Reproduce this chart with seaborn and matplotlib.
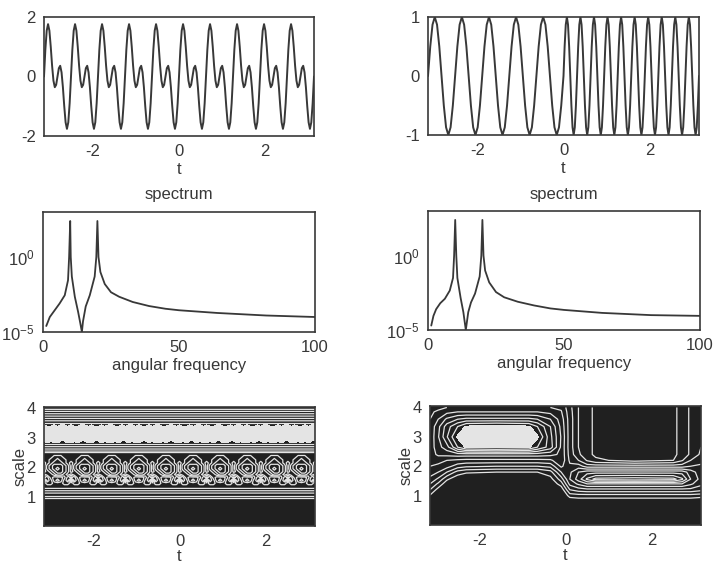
import numpy as np
import matplotlib
matplotlib.use("Agg")
import matplotlib.pyplot as plt
import seaborn as sns

# ---------------------------------------------------------
# Signals (one line per cycle of the curve)
# ---------------------------------------------------------
signal_left = [
    0, .90, 1.54, 1.76, 1.54, 1, .36, -.14, -.36, -.28, 0, .28, .36, .14, -.36, -1, -1.54, -1.76, -1.54, -.90,
    0, .90, 1.54, 1.76, 1.54, 1, .36, -.14, -.36, -.28, 0, .28, .36, .14, -.36, -1, -1.54, -1.76, -1.54, -.90,
    0, .90, 1.54, 1.76, 1.54, 1, .36, -.14, -.36, -.28, 0, .28, .36, .14, -.36, -1, -1.54, -1.76, -1.54, -.90,
    0, .90, 1.54, 1.76, 1.54, 1, .36, -.14, -.36, -.28, 0, .28, .36, .14, -.36, -1, -1.54, -1.76, -1.54, -.90,
    0, .90, 1.54, 1.76, 1.54, 1, .36, -.14, -.36, -.28, 0, .28, .36, .14, -.36, -1, -1.54, -1.76, -1.54, -.90,
    0, .90, 1.54, 1.76, 1.54, 1, .36, -.14, -.36, -.28, 0, .28, .36, .14, -.36, -1, -1.54, -1.76, -1.54, -.90,
    0, .90, 1.54, 1.76, 1.54, 1, .36, -.14, -.36, -.28, 0, .28, .36, .14, -.36, -1, -1.54, -1.76, -1.54, -.90,
    0, .90, 1.54, 1.76, 1.54, 1, .36, -.14, -.36, -.28, 0, .28, .36, .14, -.36, -1, -1.54, -1.76, -1.54, -.90,
    0, .90, 1.54, 1.76, 1.54, 1, .36, -.14, -.36, -.28, 0, .28, .36, .14, -.36, -1, -1.54, -1.76, -1.54, -.90,
    0, .90, 1.54, 1.76, 1.54, 1, .36, -.14, -.36, -.28, 0, .28, .36, .14, -.36, -1, -1.54, -1.76, -1.54, -.90,
    0,
]

signal_right_slow = [
    0, .5, .87, 1, .87, .5, 0, -.5, -.87, -1, -.87, -.5,
    0, .5, .87, 1, .87, .5, 0, -.5, -.87, -1, -.87, -.5,
    0, .5, .87, 1, .87, .5, 0, -.5, -.87, -1, -.87, -.5,
    0, .5, .87, 1, .87, .5, 0, -.5, -.87, -1, -.87, -.5,
    0, .5, .87, 1, .87, .5, 0, -.5, -.87, -1, -.87, -.5,
]
signal_right_fast = [
    0, .5, .87, 1, .87, .5, 0, -.5, -.87, -1, -.87, -.5,
    0, .5, .87, 1, .87, .5, 0, -.5, -.87, -1, -.87, -.5,
    0, .5, .87, 1, .87, .5, 0, -.5, -.87, -1, -.87, -.5,
    0, .5, .87, 1, .87, .5, 0, -.5, -.87, -1, -.87, -.5,
    0, .5, .87, 1, .87, .5, 0, -.5, -.87, -1, -.87, -.5,
    0, .5, .87, 1, .87, .5, 0, -.5, -.87, -1, -.87, -.5,
    0, .5, .87, 1, .87, .5, 0, -.5, -.87, -1, -.87, -.5,
    0, .5, .87, 1, .87, .5, 0, -.5, -.87, -1, -.87, -.5,
    0, .5, .87, 1, .87, .5, 0, -.5, -.87, -1, -.87, -.5,
    0, .5, .87, 1, .87, .5, 0, -.5, -.87, -1, -.87, -.5,
    0,
]

# ---------------------------------------------------------
# Spectra, log10 of the amplitude
# ---------------------------------------------------------
freq_left = [1.2, 2.5, 4.3, 6.1, 8, 9.2, 9.6, 10, 10.2, 10.6, 11.7, 12.9, 13.7, 14.3, 14.7, 15.7,
             17.2, 19, 19.6, 20, 20.4, 21.1, 22.7, 25, 28, 33, 39, 45, 50, 64, 82, 100]
logamp_left = [-4.6, -4, -3.55, -3.1, -2.55, -1.55, 0, 2.4, 0, -1.3, -2.65, -3.65, -4.4, -5, -4.3, -3.3,
               -2.55, -1.3, 0, 2.4, 0, -1, -1.8, -2.35, -2.65, -3, -3.27, -3.45, -3.55, -3.73, -3.9, -4]
freq_right = [1.2, 2, 3, 4.5, 6.2, 8, 9.2, 9.6, 10, 10.4, 10.8, 12, 13, 13.9, 14.8, 15.8,
              17.3, 19, 19.6, 20, 20.4, 21, 22.5, 25, 28, 33, 39, 45, 50, 64, 82, 100]
logamp_right = [-4.7, -4.05, -3.6, -3.2, -2.9, -2.35, -1.5, 0, 2.4, 0, -1.5, -2.85, -3.8, -5, -3.8, -3.15,
                -2.55, -1.4, 0, 2.4, 0, -1, -1.8, -2.45, -2.8, -3.1, -3.35, -3.55, -3.65, -3.85, -4, -4.05]

# ---------------------------------------------------------
# Left scalogram: flat bands below and above, ring pattern between
# ---------------------------------------------------------
band_low_scale = [0, 0.9, 0.95, 1.03, 1.12, 1.2, 1.28, 1.36]
band_low_level = [0, 0.4, 1, 2, 3, 4, 5, 5.5]
ring_scale = [1.45, 1.55, 1.65, 1.75, 1.85, 1.95, 2.05, 2.15, 2.25, 2.35, 2.45]
ring_rows = [
    "56655566 56655566 56655566 56655566 56655566 56655566 56655566 56655566 56655566 56655566 5",
    "27643467 27643467 27643467 27643467 27643467 27643467 27643467 27643467 27643467 27643467 2",
    "87544457 87544457 87544457 87544457 87544457 87544457 87544457 87544457 87544457 87544457 8",
    "65567765 65567765 65567765 65567765 65567765 65567765 65567765 65567765 65567765 65567765 6",
    "45678876 45678876 45678876 45678876 45678876 45678876 45678876 45678876 45678876 45678876 4",
    "46789876 46789876 46789876 46789876 46789876 46789876 46789876 46789876 46789876 46789876 4",
    "46788876 46788876 46788876 46788876 46788876 46788876 46788876 46788876 46788876 46788876 4",
    "45677765 45677765 45677765 45677765 45677765 45677765 45677765 45677765 45677765 45677765 4",
    "55667665 55667665 55667665 55667665 55667665 55667665 55667665 55667665 55667665 55667665 5",
    "55566655 55566655 55566655 55566655 55566655 55566655 55566655 55566655 55566655 55566655 5",
    "55555555 55555555 55555555 55555555 55555555 55555555 55555555 55555555 55555555 55555555 5",
]
band_high_scale = [2.5, 2.55, 2.62, 2.7, 2.78, 2.85, 3.0, 3.3, 3.42, 3.5, 3.58, 3.66, 3.74, 3.82, 3.9, 3.97, 4.0]
band_high_level = [6, 7, 8, 9, 10, 11, 12, 12, 11, 10, 9, 8, 7, 6, 5, 4, 3.5]
# the two edges of the white band are broken up into specks in the scan
speck_edge_low = "0101100110100110010110100101100101101001101001011010011001011010010110100110101001"[:81]
speck_edge_high = "1001011010011010010110010110100101100110100101101001100101101001011001011010010110"[:81]

# ---------------------------------------------------------
# Right scalogram: levels read at these t / scale positions
# ---------------------------------------------------------
right_t = [-3.14, -2.95, -2.75, -2.5, -2.3, -1.6, -.85, -.65, -.35, -.1, .1, .3, .5, .7, 1.6, 2.5, 2.7, 2.9, 3.14]
right_scale = [0, .9, 1, 1.2, 1.4, 1.56, 1.8, 2, 2.2, 2.4, 2.65, 3, 3.35, 3.6, 3.85, 4]
right_levels = [
    [-1, -1, -1, -1, -1, -1, -1, -1, -1, -1, -1, -1, -1, -1, -1, -1, -1, -1, -1],
    [-1, -1, -1, -1, -1, -1, -1, -1, -1, -1, .7, .9, .9, .9, .9, .9, .9, .9, .7],
    [.9, -.5, -1, -1, -1, -1, -1, -1, -1, -.5, 1.5, 1.6, 1.6, 1.6, 1.6, 1.6, 1.6, 1.6, 1.5],
    [2, .6, -.5, -1, -1, -1, -1, -1, -.5, .3, 3, 3.5, 3.7, 3.7, 3.7, 3.7, 3.7, 3.7, 3.3],
    [3, 1.8, .3, -.5, -1, -1, -1, -.5, .1, 1.5, 4.3, 5.2, 6, 6, 6, 6, 6, 5.2, 4.3],
    [3.7, 2.8, 1.2, .2, -.3, -.5, -.4, -.3, .6, 2.5, 5, 6.5, 8.2, 9.4, 9.6, 9.4, 8.2, 6, 4.6],
    [4.5, 4, 3, 1.6, 1.2, 1, 1, 1, 1.6, 4, 4.8, 6, 6.6, 6.6, 6.6, 6.6, 6.6, 5.5, 4.4],
    [5, 4.8, 4.4, 3.5, 3.2, 3, 3, 3, 3.3, 5.2, 4.2, 4.5, 3.5, 3.5, 3.5, 3.5, 3.5, 4, 4.2],
    [5.3, 5.3, 5, 4.8, 4.7, 4.7, 4.7, 4.7, 4.8, 5.8, 3.8, 3, 1.9, 1.2, .6, 1, 1.9, 3, 3.6],
    [5.5, 6.2, 6.3, 6.5, 6.5, 6.5, 6.5, 6.5, 6.3, 5.8, 3.6, 2.2, 1.3, .8, 0, .8, 1.3, 2.2, 3.2],
    [5.4, 6.6, 7.6, 10, 11.2, 11.5, 11.2, 10, 8.5, 5.8, 3.5, 2, 1.3, .8, 0, .8, 1.3, 2.2, 3],
    [5.2, 6.9, 8.9, 11.2, 12, 12, 12, 11.2, 8.3, 5.9, 3.5, 2, 1.3, .8, 0, .8, 1.3, 2.2, 3],
    [5.2, 6.7, 8.5, 10, 11.2, 11.5, 11.2, 10, 8, 5.7, 3.5, 2, 1.3, .8, 0, .8, 1.3, 2.2, 3],
    [5, 6, 7.2, 8, 8.3, 8.3, 8.3, 8, 7, 5.5, 3.5, 2, 1.3, .8, 0, .8, 1.3, 2.2, 3],
    [4.8, 5.2, 5.7, 6, 6, 6, 6, 6, 5.7, 5.1, 3.4, 2, 1.3, .8, 0, .8, 1.3, 2.2, 3],
    [4.5, 4.7, 5, 5.2, 5.2, 5.2, 5.2, 5.2, 5, 4.8, 3.3, 2, 1.3, .8, 0, .8, 1.3, 2.2, 3],
]

t_ticks = [-2, 0, 2]
t_range = (-3.14, 3.14)
INK = "#383838"
DARK = "#202020"
PALE = "#e4e4e4"
W, H = 717, 563

sns.set_theme(style="white")
plt.rcParams["font.family"] = ["Liberation Sans", "DejaVu Sans"]
plt.rcParams["mathtext.default"] = "regular"
plt.rcParams["axes.unicode_minus"] = False
plt.rcParams["text.color"] = INK
plt.rcParams["axes.labelcolor"] = INK
plt.rcParams["xtick.color"] = INK
plt.rcParams["ytick.color"] = INK

fig = plt.figure(figsize=(W / 100, H / 100), dpi=100)


def panel(left, top, right, bottom):
    # axes box given in image pixels
    ax = fig.add_axes([left / W, 1 - bottom / H, (right - left) / W, (bottom - top) / H])
    for spine in ax.spines.values():
        spine.set_color(INK)
        spine.set_linewidth(1.2)
    ax.tick_params(direction="in", length=2, width=0.8, labelsize=12, pad=6)
    return ax


def draw_signal(ax, t, values, yticks):
    sns.lineplot(x=t, y=values, ax=ax, color=INK, linewidth=1.4, estimator=None, sort=False)
    ax.set_xlim(*t_range)
    ax.set_ylim(yticks[0], yticks[-1])
    ax.set_xticks(t_ticks)
    ax.set_yticks(yticks)
    ax.set_xlabel("t", fontsize=12, labelpad=2)


def draw_spectrum(ax, freq, logamp):
    sns.lineplot(x=freq, y=np.power(10.0, logamp), ax=ax, color=INK, linewidth=1.3, estimator=None, sort=False)
    ax.set_yscale("log")
    ax.set_xlim(0, 100)
    ax.set_ylim(1e-5, 1e3)
    ax.set_xticks([0, 50, 100])
    ax.set_yticks([1e-5, 1e0])
    ax.minorticks_off()
    ax.set_xlabel("angular frequency", fontsize=12, labelpad=2)
    ax.set_title("spectrum", fontsize=12, pad=9, color=INK)


def draw_scalogram(ax, t, scale, z, levels, top_level):
    ax.set_facecolor(DARK)
    ax.contourf(t, scale, z, levels=[top_level, 99], colors=[PALE])
    ax.contour(t, scale, z, levels=levels, colors=[PALE], linewidths=0.9)
    ax.set_xlim(*t_range)
    ax.set_ylim(0, 4.05)
    ax.set_xticks(t_ticks)
    ax.set_yticks([1, 2, 3, 4])
    ax.set_xlabel("t", fontsize=12, labelpad=0)
    ax.set_ylabel("scale", fontsize=12, labelpad=-1)


# signals
t_left = np.linspace(-3.14, 3.14, len(signal_left))
t_right = np.r_[np.linspace(-3.14, 0, len(signal_right_slow), endpoint=False),
                np.linspace(0, 3.14, len(signal_right_fast))]
draw_signal(panel(44, 17, 314, 136), t_left, signal_left, [-2, 0, 2])
draw_signal(panel(428, 17, 699, 135), t_right, signal_right_slow + signal_right_fast, [-1, 0, 1])

# spectra
draw_spectrum(panel(43, 212, 315, 332), freq_left, logamp_left)
draw_spectrum(panel(428, 211, 700, 330), freq_right, logamp_right)

# scalograms
ring_grid = np.array([[int(c) + 0.5 for c in row if c != " "] for row in ring_rows])
n_cols = ring_grid.shape[1]
left_scale = np.r_[band_low_scale, ring_scale, band_high_scale]
left_z = np.vstack([np.tile(np.array(band_low_level)[:, None], n_cols), ring_grid,
                    np.tile(np.array(band_high_level)[:, None], n_cols)])
left_z[list(left_scale).index(2.85)] = [10.6 + 0.8 * int(c) for c in speck_edge_low]
left_z[list(left_scale).index(3.42)] = [10.6 + 0.8 * int(c) for c in speck_edge_high]
left_t = np.linspace(-3.14, 3.14, n_cols)
draw_scalogram(panel(44, 407, 315, 526), left_t, left_scale, left_z, list(range(1, 11)), 11)
draw_scalogram(panel(430, 406, 701, 525), right_t, right_scale, np.array(right_levels), list(range(1, 11)), 11)

fig.savefig("out.png", dpi=100)
plt.close(fig)
